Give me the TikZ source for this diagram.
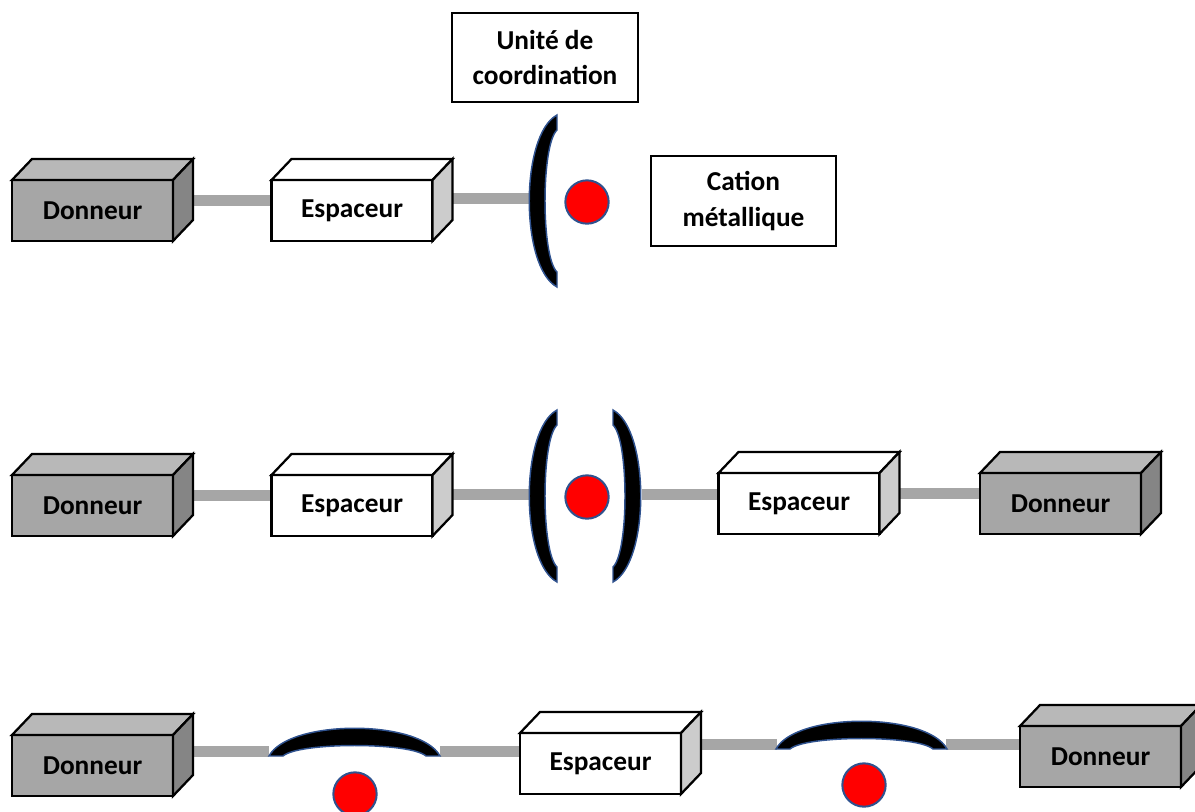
\documentclass[tikz,border=0pt]{standalone}
\usepackage{fontspec}
\setmainfont{Carlito}
\usetikzlibrary{calc,backgrounds}
\definecolor{dfront}{HTML}{A6A6A6}
\definecolor{dtop}{HTML}{B8B8B8}
\definecolor{dside}{HTML}{858585}
\definecolor{efront}{HTML}{FFFFFF}
\definecolor{etop}{HTML}{FFFFFF}
\definecolor{eside}{HTML}{CCCCCC}
\definecolor{barc}{HTML}{A6A6A6}
\definecolor{outl}{HTML}{2F528F}
\tikzset{
  front/.style={draw=black, line width=1.7pt, minimum width=120.75pt, minimum height=45.75pt,
    inner sep=0pt, outer sep=0pt, font=\fontsize{20.5}{26.5}\selectfont\bfseries},
  edge/.style={draw=black, line width=1.7pt, line join=miter},
  bar/.style={draw=barc, line width=8.25pt, line cap=butt},
  brk/.style={fill=black, draw=outl, line width=1.1pt},
  ion/.style={circle, fill=red, draw=outl, line width=1.5pt, minimum size=32.5pt, inner sep=0pt},
  label/.style={draw=black, line width=0.9pt, align=center, inner sep=0pt,
    font=\fontsize{20.5}{26.5}\selectfont\bfseries}
}
\newcommand\mycube[5]{%
  \node[front, fill=#4front] (#1) at (#2,#3) {#5};
  \draw[edge, fill=#4top] (#1.north west) -- ++(20,-21) -- ++(161,0) -- (#1.north east) -- cycle;
  \draw[edge, fill=#4side] (#1.north east) -- ++(20,-21) -- ++(0,61) -- (#1.south east) -- cycle;
  \coordinate (#1-s) at ($(#1.east)+(20,-10.5)$);
}
\newcommand\mybracket[3]{%
  \begin{scope}[shift={(#1,#2)}, xscale=#3]
    \draw[brk] (0,0) .. controls (-37,20) and (-37,152) .. (0,172) -- (0,157)
      .. controls (-16,142) and (-16,30) .. (0,15) -- cycle;
  \end{scope}}
\newcommand\myarc[2]{%
  \begin{scope}[shift={(#1,#2)}]
    \draw[brk] (0,0) .. controls (20,-37) and (151,-37) .. (171,0) -- (157,0)
      .. controls (141,-14) and (30,-14) .. (14,0) -- cycle;
  \end{scope}}
\begin{document}
\begin{tikzpicture}[x=0.75pt, y=-0.75pt]
\useasboundingbox (0,0) rectangle (1195,811);
\clip (0,0) rectangle (1195,811);

% ---------- Row 1 ----------
\mycube{d1}{92.5}{210.5}{d}{Donneur}
\mycube{e1}{352}{210.5}{e}{Espaceur}
\mybracket{557}{115}{1}
\coordinate (br1) at (530,198);
\node[ion] (c1) at (587,202) {};
\node[label, minimum width=139.5pt, minimum height=66.75pt] (unit) at (545,57.5) {Unité de\\coordination};
\node[label, minimum width=138.75pt, minimum height=67.5pt] (cat) at (743.5,201) {Cation\\métallique};

% ---------- Row 2 ----------
\mycube{d2}{92.5}{505.5}{d}{Donneur}
\mycube{e2}{352}{505.5}{e}{Espaceur}
\mybracket{557}{410}{1}
\mybracket{613}{410}{-1}
\coordinate (br2l) at (529,494);
\coordinate (br2r) at (642,494);
\node[ion] (c2) at (587,497) {};
\mycube{e2r}{799}{503.5}{e}{Espaceur}
\mycube{d2r}{1060.5}{503.5}{d}{Donneur}

% ---------- Row 3 ----------
\mycube{d3}{92.5}{765.5}{d}{Donneur}
\myarc{269}{756}
\coordinate (a1l) at (269,751);
\coordinate (a1r) at (440,751);
\node[ion] (c3) at (355,794) {};
\mycube{e3}{600.5}{763.5}{e}{Espaceur}
\myarc{776}{749}
\coordinate (a2l) at (777,744);
\coordinate (a2r) at (946,744);
\node[ion] (c4) at (864,785) {};
\mycube{d3r}{1100.5}{756.5}{d}{Donneur}

% ---------- connectors ----------
\begin{scope}[on background layer]
\draw[bar] (d1-s) -- (e1.west |- d1-s);
\draw[bar] (e1-s |- br1) -- (br1);
\draw[bar] (d2-s) -- (e2.west |- d2-s);
\draw[bar] (e2-s |- br2l) -- (br2l);
\draw[bar] (br2r) -- (e2r.west |- br2r);
\draw[bar] (e2r-s) -- (d2r.west |- e2r-s);
\draw[bar] (d3-s |- a1l) -- (a1l);
\draw[bar] (a1r) -- (e3.west |- a1r);
\draw[bar] (e3-s |- a2l) -- (a2l);
\draw[bar] (a2r) -- (d3r.west |- a2r);
\end{scope}
\end{tikzpicture}
\end{document}
